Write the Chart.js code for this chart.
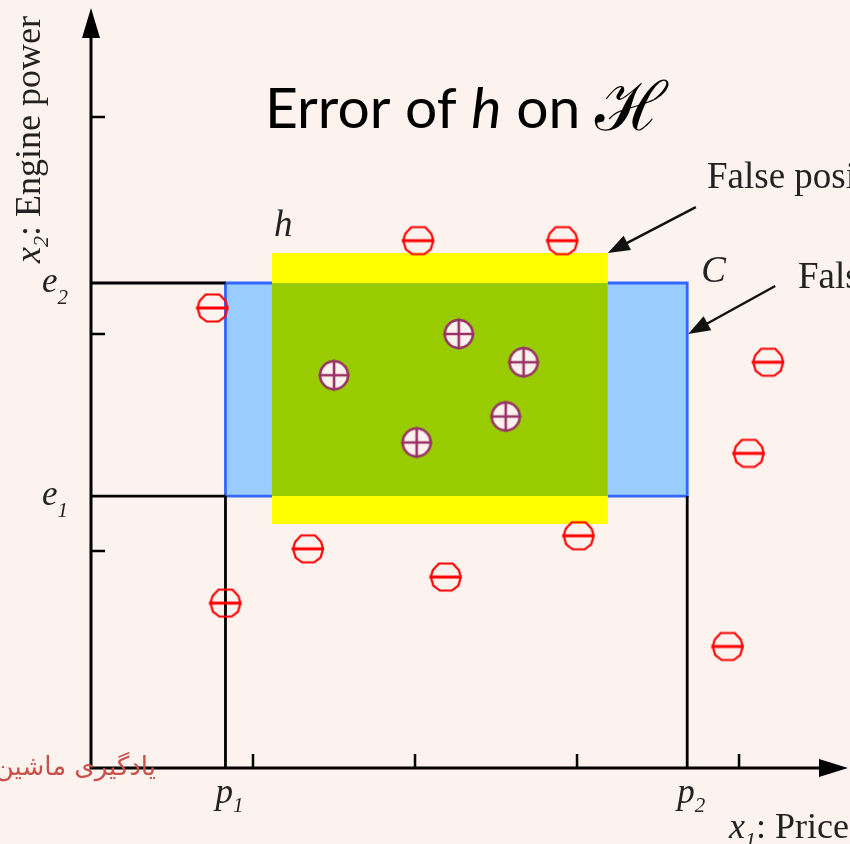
<!DOCTYPE html>
<html>
<head>
<meta charset="utf-8">
<script src="https://cdn.jsdelivr.net/npm/chart.js@4/dist/chart.umd.min.js"></script>
<style>
  html, body { margin: 0; padding: 0; background: #fdf3ee; }
  canvas { display: block; }
</style>
</head>
<body>
<canvas id="myChart" width="850" height="844"></canvas>
<script>
// axis extents and inward tick marks
const xMax = 4.654;
const yMax = 3.493;
const xTicks = [1, 2, 3, 4];
const yTicks = [1, 2, 3];

// concept C: p1..p2 on price, e1..e2 on engine power
const boundX = [0.83, 3.68];
const boundY = [1.253, 2.235];
const boundXLabels = ['p', 'p'];
const boundXSubs = ['1', '2'];
const boundYLabels = ['e', 'e'];
const boundYSubs = ['1', '2'];

// hypothesis h
const hypX = [1.117, 3.19];
const hypY = [1.124, 2.373];

// negative examples
const negX = [2.02, 2.91, 0.75, 4.18, 4.06, 1.34, 2.19, 3.01, 3.93, 0.83];
const negY = [2.43, 2.43, 2.12, 1.87, 1.45, 1.01, 0.88, 1.07, 0.56, 0.76];

// positive examples
const posX = [2.27, 2.67, 1.50, 2.56, 2.01];
const posY = [2.00, 1.87, 1.81, 1.62, 1.50];

const bg = '#fdf3ee';
const serif = '"Liberation Serif", "Times New Roman", serif';

function toPoints(xs, ys) {
    const pts = [];
    for (let i = 0; i < xs.length; i++) {
        pts.push({x: xs[i], y: ys[i]});
    }
    return pts;
}

function rectPoints(xs, ys) {
    return [
        {x: xs[0], y: ys[0]}, {x: xs[0], y: ys[1]},
        {x: xs[1], y: ys[1]}, {x: xs[1], y: ys[0]},
        {x: xs[0], y: ys[0]}
    ];
}

function makeNeg() {
    const c = document.createElement('canvas');
    c.width = 36; c.height = 34;
    const g = c.getContext('2d');
    const cx = 18, cy = 17;
    const shape = [[-7, -13.5], [7, -13.5], [13, -7], [15, 0], [12.5, 8.5], [6, 13.5],
                   [-6, 13.5], [-12.5, 8.5], [-15, 0], [-13, -7]];
    g.strokeStyle = '#ff0000';
    g.lineWidth = 2.2;
    g.beginPath();
    shape.forEach((p, i) => i ? g.lineTo(cx + p[0], cy + p[1]) : g.moveTo(cx + p[0], cy + p[1]));
    g.closePath();
    g.stroke();
    g.lineWidth = 2.8;
    g.beginPath();
    g.moveTo(cx - 16.5, cy);
    g.lineTo(cx + 16, cy);
    g.stroke();
    return c;
}

function makePos() {
    const c = document.createElement('canvas');
    c.width = 34; c.height = 34;
    const g = c.getContext('2d');
    const cx = 17, cy = 17, r = 14;
    g.fillStyle = bg;
    g.strokeStyle = '#993366';
    g.lineWidth = 2.6;
    g.beginPath();
    g.arc(cx, cy, r, 0, Math.PI * 2);
    g.fill();
    g.stroke();
    g.beginPath();
    g.moveTo(cx - r - 1.5, cy); g.lineTo(cx + r + 1.5, cy);
    g.moveTo(cx, cy - r - 1.5); g.lineTo(cx, cy + r + 1.5);
    g.stroke();
    return c;
}

// green overlap of h and C
const overlapX = [Math.max(hypX[0], boundX[0]), Math.min(hypX[1], boundX[1])];
const overlapY = [Math.max(hypY[0], boundY[0]), Math.min(hypY[1], boundY[1])];

function guide(pts) {
    return {
        data: pts, showLine: true, borderColor: '#000', borderWidth: 2.8,
        pointRadius: 0, fill: false, order: 1
    };
}

function subText(ctx, x, y, main, sub, size, subSize, dy) {
    ctx.font = 'italic ' + size + 'px ' + serif;
    ctx.fillText(main, x, y);
    const w = ctx.measureText(main).width;
    ctx.font = 'italic ' + subSize + 'px ' + serif;
    ctx.fillText(sub, x + w, y + dy);
    return w + ctx.measureText(sub).width;
}

function arrow(ctx, x0, y0, x1, y1, head, half) {
    const a = Math.atan2(y1 - y0, x1 - x0);
    ctx.beginPath();
    ctx.moveTo(x0, y0);
    ctx.lineTo(x1 - Math.cos(a) * head * 0.8, y1 - Math.sin(a) * head * 0.8);
    ctx.stroke();
    ctx.beginPath();
    ctx.moveTo(x1, y1);
    ctx.lineTo(x1 - Math.cos(a) * head - Math.sin(a) * half, y1 - Math.sin(a) * head + Math.cos(a) * half);
    ctx.lineTo(x1 - Math.cos(a) * head + Math.sin(a) * half, y1 - Math.sin(a) * head - Math.cos(a) * half);
    ctx.closePath();
    ctx.fill();
}

const decor = {
    id: 'decor',
    beforeDraw(chart) {
        const ctx = chart.ctx;
        ctx.save();
        ctx.fillStyle = bg;
        ctx.fillRect(0, 0, chart.width, chart.height);
        ctx.restore();
    },
    afterDraw(chart) {
        const ctx = chart.ctx;
        const xs = chart.scales.x, ys = chart.scales.y;
        const x0 = xs.getPixelForValue(0), y0 = ys.getPixelForValue(0);
        const xEnd = xs.getPixelForValue(xMax), yEnd = ys.getPixelForValue(yMax);
        ctx.save();
        ctx.strokeStyle = '#000';
        ctx.fillStyle = '#000';
        // axes
        ctx.lineWidth = 3;
        ctx.beginPath();
        ctx.moveTo(x0, y0 + 1.5); ctx.lineTo(x0, yEnd + 20);
        ctx.moveTo(x0 - 1.5, y0); ctx.lineTo(xEnd - 20, y0);
        ctx.stroke();
        ctx.beginPath();
        ctx.moveTo(x0, yEnd - 2); ctx.lineTo(x0 - 9, yEnd + 28); ctx.lineTo(x0 + 9, yEnd + 28); ctx.closePath();
        ctx.fill();
        ctx.beginPath();
        ctx.moveTo(xEnd + 3, y0); ctx.lineTo(xEnd - 26, y0 - 9); ctx.lineTo(xEnd - 26, y0 + 9); ctx.closePath();
        ctx.fill();
        // inward ticks
        ctx.lineWidth = 2.5;
        ctx.beginPath();
        for (const t of xTicks) {
            const px = xs.getPixelForValue(t);
            ctx.moveTo(px, y0); ctx.lineTo(px, y0 - 14);
        }
        for (const t of yTicks) {
            const py = ys.getPixelForValue(t);
            ctx.moveTo(x0, py); ctx.lineTo(x0 + 14, py);
        }
        ctx.stroke();

        // p1, p2, e1, e2
        ctx.fillStyle = '#222';
        ctx.textAlign = 'left';
        ctx.textBaseline = 'alphabetic';
        for (let i = 0; i < boundX.length; i++) {
            const px = xs.getPixelForValue(boundX[i]);
            subText(ctx, px - 10, y0 + 35, boundXLabels[i], boundXSubs[i], 35, 21, 9);
        }
        for (let i = 0; i < boundY.length; i++) {
            const py = ys.getPixelForValue(boundY[i]);
            subText(ctx, 42, py + 9, boundYLabels[i], boundYSubs[i], 35, 21, 12);
        }

        // axis titles
        ctx.save();
        ctx.translate(40, y0 - 505);
        ctx.rotate(-Math.PI / 2);
        let w = subText(ctx, 0, 0, 'x', '2', 36, 22, 8);
        ctx.font = '36px ' + serif;
        ctx.fillText(': Engine power', w, 0);
        ctx.restore();
        w = subText(ctx, 729, y0 + 70, 'x', '1', 36, 22, 9);
        ctx.font = '36px ' + serif;
        ctx.fillText(': Price', 729 + w, y0 + 70);

        // h and C labels
        ctx.fillStyle = '#222';
        ctx.font = 'italic 37px ' + serif;
        ctx.fillText('h', xs.getPixelForValue(hypX[0]) + 2, ys.getPixelForValue(hypY[1]) - 17);
        ctx.fillText('C', xs.getPixelForValue(boundX[1]) + 14, ys.getPixelForValue(boundY[1]) - 1);

        // false positives / negatives callouts
        ctx.font = '37px ' + serif;
        ctx.fillText('False positives', 707, 188);
        ctx.fillText('False negatives', 798, 288);
        ctx.strokeStyle = '#111';
        ctx.fillStyle = '#111';
        ctx.lineWidth = 2.5;
        const hx = xs.getPixelForValue(hypX[1]), hy = ys.getPixelForValue(hypY[1]);
        arrow(ctx, hx + 88, hy - 46, hx, hy, 22, 8);
        const cx = xs.getPixelForValue(boundX[1]) + 1, cy = ys.getPixelForValue(2.0);
        arrow(ctx, cx + 87, cy - 48, cx, cy, 22, 8);

        // title
        ctx.fillStyle = '#000';
        let tx = 265;
        const ty = 128;
        const sans = 'Lato, "Open Sans", sans-serif';
        ctx.font = '57px ' + sans;
        ctx.fillText('Error of ', tx, ty);
        tx += ctx.measureText('Error of ').width;
        ctx.font = 'italic 57px ' + sans;
        ctx.fillText('h', tx, ty);
        tx += ctx.measureText('h').width;
        ctx.font = '57px ' + sans;
        ctx.fillText(' on ', tx, ty);
        tx += ctx.measureText(' on ').width;
        ctx.font = '68px "DejaVu Serif", serif';
        ctx.fillText('\u210B', tx, ty + 2);

        // watermark
        ctx.fillStyle = '#c9514c';
        ctx.font = '26px "DejaVu Sans", sans-serif';
        ctx.textAlign = 'right';
        ctx.fillText('یادگیری ماشین', 156, y0 + 7);
        ctx.restore();
    }
};

const ctx = document.getElementById('myChart').getContext('2d');
const myChart = new Chart(ctx, {
    type: 'scatter',
    data: {
        datasets: [
            {
                data: toPoints(negX, negY), pointStyle: makeNeg(), pointRadius: 15, order: 0
            },
            {
                data: toPoints(posX, posY), pointStyle: makePos(), pointRadius: 15, order: 0
            },
            guide([{x: 0, y: boundY[1]}, {x: boundX[0], y: boundY[1]}]),
            guide([{x: 0, y: boundY[0]}, {x: boundX[0], y: boundY[0]}]),
            guide([{x: boundX[0], y: 0}, {x: boundX[0], y: boundY[0]}]),
            guide([{x: boundX[1], y: 0}, {x: boundX[1], y: boundY[0]}]),
            {
                data: rectPoints(overlapX, overlapY), showLine: true, fill: 'shape',
                backgroundColor: '#99cc00', borderWidth: 0, pointRadius: 0, order: 2
            },
            {
                data: rectPoints(hypX, hypY), showLine: true, fill: 'shape',
                backgroundColor: '#ffff00', borderWidth: 0, pointRadius: 0, order: 3
            },
            {
                data: rectPoints(boundX, boundY), showLine: true, fill: 'shape',
                backgroundColor: '#99ccff', borderColor: '#3366ff', borderWidth: 2.8,
                pointRadius: 0, order: 4
            }
        ]
    },
    options: {
        responsive: false,
        animation: false,
        layout: {autoPadding: false, padding: {left: 91, right: 5, top: 10, bottom: 76}},
        scales: {
            x: {type: 'linear', min: 0, max: xMax, display: false},
            y: {type: 'linear', min: 0, max: yMax, display: false}
        },
        plugins: {
            legend: {display: false},
            tooltip: {enabled: false}
        },
        events: []
    },
    plugins: [decor]
});
</script>
</body>
</html>
